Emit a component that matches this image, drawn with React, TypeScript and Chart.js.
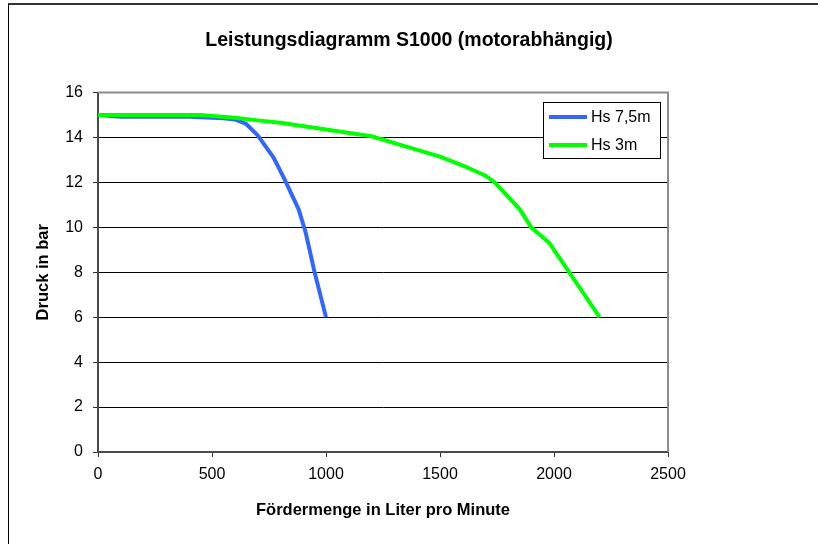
import { useEffect, useRef } from 'react';
import { Chart, registerables } from 'chart.js';

Chart.register(...registerables);

const TITLE = 'Leistungsdiagramm S1000 (motorabhängig)';
const X_TITLE = 'Fördermenge in Liter pro Minute';
const Y_TITLE = 'Druck in bar';
const SERIES_NAMES = ['Hs 7,5m', 'Hs 3m'];
const SERIES_COLORS = ['#3366FF', '#00FF00'];

const BLUE_X = [0, 100, 400, 550, 600, 650, 700, 770, 820, 880, 910, 950, 1000];
const BLUE_Y = [15, 14.92, 14.92, 14.85, 14.8, 14.6, 14.1, 13.1, 12.1, 10.8, 9.8, 8, 6];

const GREEN_X = [0, 450, 600, 700, 800, 1000, 1200, 1400, 1500, 1600, 1700, 1740, 1850, 1900, 1980, 2200];
const GREEN_Y = [15, 15, 14.88, 14.76, 14.65, 14.35, 14.05, 13.45, 13.15, 12.75, 12.3, 12.0, 10.8, 10.0, 9.3, 6];

const X_MIN = 0;
const X_MAX = 2500;
const X_STEP = 500;
const Y_MIN = 0;
const Y_MAX = 16;
const Y_STEP = 2;

const FONT = '"Liberation Sans", Arial, sans-serif';

const toPoints = (xs: number[], ys: number[]) => xs.map((x, i) => ({ x, y: ys[i] }));

const framePlugin = {
  id: 'frame',
  beforeDraw(chart: any) {
    const { ctx, width, height } = chart;
    ctx.save();
    ctx.fillStyle = '#ffffff';
    ctx.fillRect(0, 0, width, height);
    ctx.restore();
  },
  afterDraw(chart: any) {
    const { ctx, chartArea } = chart;
    ctx.save();
    // outer frame (top + left)
    ctx.strokeStyle = '#333333';
    ctx.lineWidth = 2;
    ctx.beginPath();
    ctx.moveTo(8, 4);
    ctx.lineTo(818, 4);
    ctx.stroke();
    ctx.strokeStyle = '#000000';
    ctx.lineWidth = 1;
    ctx.beginPath();
    ctx.moveTo(8.5, 4);
    ctx.lineTo(8.5, 544);
    ctx.stroke();

    // plot area top/right border
    ctx.strokeStyle = '#8c8c8c';
    ctx.lineWidth = 2;
    ctx.beginPath();
    ctx.moveTo(chartArea.left, chartArea.top);
    ctx.lineTo(chartArea.right, chartArea.top);
    ctx.lineTo(chartArea.right, chartArea.bottom);
    ctx.stroke();

    // title
    ctx.fillStyle = '#000000';
    ctx.font = 'bold 19.5px ' + FONT;
    ctx.textAlign = 'center';
    ctx.textBaseline = 'alphabetic';
    ctx.fillText(TITLE, 409, 46);

    // legend
    const lx = 543.5;
    const ly = 102.5;
    const lw = 117;
    const lh = 56;
    ctx.fillStyle = '#ffffff';
    ctx.fillRect(lx, ly, lw, lh);
    ctx.strokeStyle = '#000000';
    ctx.lineWidth = 1;
    ctx.strokeRect(lx, ly, lw, lh);
    const rows = [117, 145];
    chart.data.datasets.forEach((ds: any, i: number) => {
      const y = rows[i];
      ctx.strokeStyle = ds.borderColor;
      ctx.lineWidth = 4;
      ctx.lineCap = 'butt';
      ctx.beginPath();
      ctx.moveTo(549, y);
      ctx.lineTo(587, y);
      ctx.stroke();
      ctx.fillStyle = '#000000';
      ctx.font = '16px ' + FONT;
      ctx.textAlign = 'left';
      ctx.textBaseline = 'middle';
      ctx.fillText(ds.label, 591, y + 1);
    });
    ctx.restore();
  },
};

export default function App() {
  const canvasRef = useRef<HTMLCanvasElement | null>(null);

  useEffect(() => {
    const canvas = canvasRef.current;
    if (!canvas) return;
    const chart = new Chart(canvas, {
      type: 'line',
      data: {
        datasets: [
          {
            label: SERIES_NAMES[0],
            data: toPoints(BLUE_X, BLUE_Y),
            borderColor: SERIES_COLORS[0],
            backgroundColor: SERIES_COLORS[0],
            borderWidth: 4,
            pointRadius: 0,
            tension: 0,
            fill: false,
            order: 1,
          },
          {
            label: SERIES_NAMES[1],
            data: toPoints(GREEN_X, GREEN_Y),
            borderColor: SERIES_COLORS[1],
            backgroundColor: SERIES_COLORS[1],
            borderWidth: 4,
            pointRadius: 0,
            tension: 0,
            fill: false,
            order: 0,
          },
        ],
      },
      options: {
        responsive: false,
        animation: false,
        events: [],
        layout: { padding: { top: 92.5, right: 150, left: 0, bottom: 0 } },
        plugins: {
          legend: { display: false },
          title: { display: false },
          tooltip: { enabled: false },
        },
        scales: {
          x: {
            type: 'linear',
            min: X_MIN,
            max: X_MAX,
            afterFit: (s: any) => {
              s.height = 92;
            },
            ticks: {
              stepSize: X_STEP,
              color: '#000000',
              padding: 8,
              font: { family: FONT, size: 16 },
              maxRotation: 0,
              callback: (v: any) => String(v),
            },
            grid: {
              color: 'rgba(0,0,0,0)',
              tickColor: '#333333',
              tickLength: 5,
              tickWidth: 1,
            },
            border: { color: '#4a4a4a', width: 2 },
            title: {
              display: true,
              text: X_TITLE,
              color: '#000000',
              font: { family: FONT, size: 16.5, weight: 'bold' },
              padding: { top: 0, bottom: 24 },
            },
          },
          y: {
            type: 'linear',
            min: Y_MIN,
            max: Y_MAX,
            afterFit: (s: any) => {
              s.width = 98;
            },
            ticks: {
              stepSize: Y_STEP,
              color: '#000000',
              padding: 10,
              font: { family: FONT, size: 16 },
              callback: (v: any) => String(v),
            },
            grid: {
              color: '#000000',
              lineWidth: 1,
              tickColor: '#333333',
              tickLength: 5,
            },
            border: { color: '#4a4a4a', width: 2 },
            title: {
              display: true,
              text: Y_TITLE,
              color: '#000000',
              font: { family: FONT, size: 16.5, weight: 'bold' },
              padding: { top: 34, bottom: 0 },
            },
          },
        },
      },
      plugins: [framePlugin],
    } as any);
    return () => chart.destroy();
  }, []);

  return (
    <div style={{ position: 'fixed', left: 0, top: 0, width: 818, height: 544, background: '#fff' }}>
      <canvas ref={canvasRef} width={818} height={544} style={{ width: 818, height: 544, display: 'block' }} />
    </div>
  );
}
